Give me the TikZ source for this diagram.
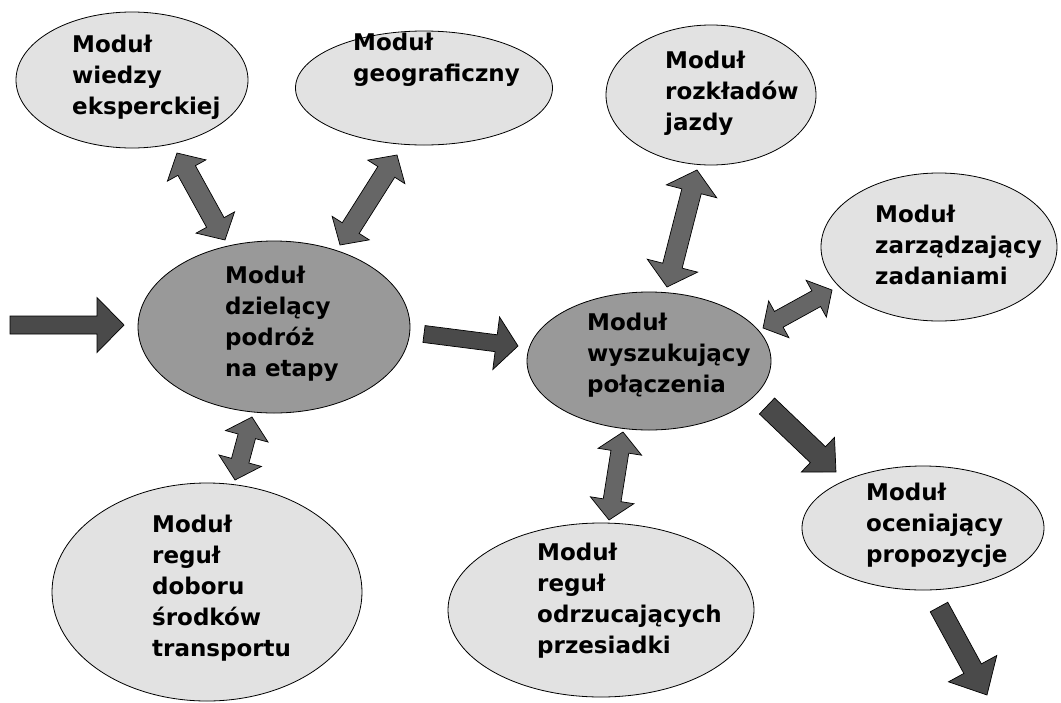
\documentclass[tikz,border=0pt]{standalone}
\usepackage{fontspec}
\setmainfont{DejaVu Sans}
\usetikzlibrary{shapes.geometric}

\definecolor{modlightfill}{HTML}{E2E2E2}
\definecolor{moddarkfill}{HTML}{999999}
\definecolor{dblfill}{HTML}{666666}
\definecolor{sglfill}{HTML}{4A4A4A}

\tikzset{
  modbase/.style={ellipse, draw=black, line width=0.8pt, inner sep=0pt},
  modlight/.style={modbase, fill=modlightfill},
  moddark/.style={modbase, fill=moddarkfill},
  modtext/.style={anchor=base west, inner sep=0pt, font=\fontsize{23}{31}\selectfont\bfseries},
  dblshape/.style={draw=black, line width=0.7pt, fill=dblfill, line join=miter},
  sglshape/.style={draw=black, line width=0.7pt, fill=sglfill, line join=miter},
}

% left-aligned stack of lines, baseline on the first line
\newcommand\modlines[1]{\begin{tabular}[t]{@{}l@{}}#1\end{tabular}}

% length and direction between two named coordinates
\newcommand\arrowgeom[2]{%
  \pgfpointdiff{\pgfpointanchor{#1}{center}}{\pgfpointanchor{#2}{center}}%
  \pgfgetlastxy{\adx}{\ady}%
  \pgfmathsetmacro\alen{veclen(\adx,\ady)}%
  \pgfmathsetmacro\aang{atan2(\ady,\adx)}}

% block arrow: from, to, shaft width, head width, head length
\newcommand\blockarrowone[5]{%
  \arrowgeom{#1}{#2}%
  \begin{scope}[shift={(#1)}, rotate=\aang]
    \draw[sglshape] (0,{#3/2}) -- ({\alen-#5},{#3/2}) -- ({\alen-#5},{#4/2})
      -- (\alen,0) -- ({\alen-#5},{-#4/2}) -- ({\alen-#5},{-#3/2})
      -- (0,{-#3/2}) -- cycle;
  \end{scope}}

% two-headed block arrow: end, end, shaft width, head width, head length
\newcommand\blockarrowtwo[5]{%
  \arrowgeom{#1}{#2}%
  \begin{scope}[shift={(#1)}, rotate=\aang]
    \draw[dblshape] (0,0) -- (#5,{#4/2}) -- (#5,{#3/2}) -- ({\alen-#5},{#3/2})
      -- ({\alen-#5},{#4/2}) -- (\alen,0) -- ({\alen-#5},{-#4/2})
      -- ({\alen-#5},{-#3/2}) -- (#5,{-#3/2}) -- (#5,{-#4/2}) -- cycle;
  \end{scope}}

\begin{document}
\begin{tikzpicture}[x=1pt, y=-1pt]
  \fill[white] (0,0) rectangle (1061,702);
  \useasboundingbox (0,0) rectangle (1061,702);

  % modules
  \node[modlight, minimum width=232pt, minimum height=136pt] (wiedza) at (132,80) {};
  \node[modlight, minimum width=257pt, minimum height=114pt] (geo) at (424,88) {};
  \node[modlight, minimum width=210pt, minimum height=140pt] (rozklad) at (711,95) {};
  \node[modlight, minimum width=236pt, minimum height=148pt] (zadania) at (939,247) {};
  \node[moddark,  minimum width=272pt, minimum height=172pt] (etapy) at (274,327) {};
  \node[moddark,  minimum width=244pt, minimum height=138pt] (szukaj) at (649,361) {};
  \node[modlight, minimum width=310pt, minimum height=218pt] (dobor) at (207,592) {};
  \node[modlight, minimum width=306pt, minimum height=174pt] (przesiadki) at (601,610) {};
  \node[modlight, minimum width=242pt, minimum height=124pt] (ocena) at (923,528) {};

  % labels
  \node[modtext] (twiedza) at (72,52) {\modlines{Moduł\\wiedzy\\eksperckiej}};
  \node[modtext] (tgeo) at (353,50) {\modlines{Moduł\\geograficzny}};
  \node[modtext] (trozklad) at (665,68) {\modlines{Moduł\\rozkładów\\jazdy}};
  \node[modtext] (tzadania) at (875,222) {\modlines{Moduł\\zarządzający\\zadaniami}};
  \node[modtext] (tetapy) at (225,283) {\modlines{Moduł\\dzielący\\podróż\\na etapy}};
  \node[modtext] (tszukaj) at (587,330) {\modlines{Moduł\\wyszukujący\\połączenia}};
  \node[modtext] (tdobor) at (152,532) {\modlines{Moduł\\reguł\\doboru\\środków\\transportu}};
  \node[modtext] (tprzesiadki) at (537,560) {\modlines{Moduł\\reguł\\odrzucających\\przesiadki}};
  \node[modtext] (tocena) at (866,500) {\modlines{Moduł\\oceniający\\propozycje}};

  % arrow end points
  \coordinate (inA) at (10,325);    \coordinate (inB) at (124,325);
  \coordinate (esA) at (424,334);   \coordinate (esB) at (518,346);
  \coordinate (soA) at (767,406);   \coordinate (soB) at (836,472);
  \coordinate (outA) at (939,607);  \coordinate (outB) at (987,695);
  \coordinate (weA) at (177,153);   \coordinate (weB) at (225,240);
  \coordinate (geA) at (397,155);   \coordinate (geB) at (340,245);
  \coordinate (rsA) at (697,170);   \coordinate (rsB) at (667,287);
  \coordinate (zsA) at (832,290);   \coordinate (zsB) at (763,328);
  \coordinate (edA) at (252,417);   \coordinate (edB) at (235,480);
  \coordinate (spA) at (623,432);   \coordinate (spB) at (609,520);

  % one-way flow
  \blockarrowone{inA}{inB}{18}{55}{27}
  \blockarrowone{esA}{esB}{17}{53}{22}
  \blockarrowone{soA}{soB}{22}{48}{25}
  \blockarrowone{outA}{outB}{20}{55}{30}

  % two-way exchange
  \blockarrowtwo{weA}{weB}{20}{44}{20}
  \blockarrowtwo{geA}{geB}{20}{44}{20}
  \blockarrowtwo{rsA}{rsB}{20}{52}{22}
  \blockarrowtwo{zsA}{zsB}{18}{42}{18}
  \blockarrowtwo{edA}{edB}{18}{44}{20}
  \blockarrowtwo{spA}{spB}{18}{44}{20}
\end{tikzpicture}
\end{document}
